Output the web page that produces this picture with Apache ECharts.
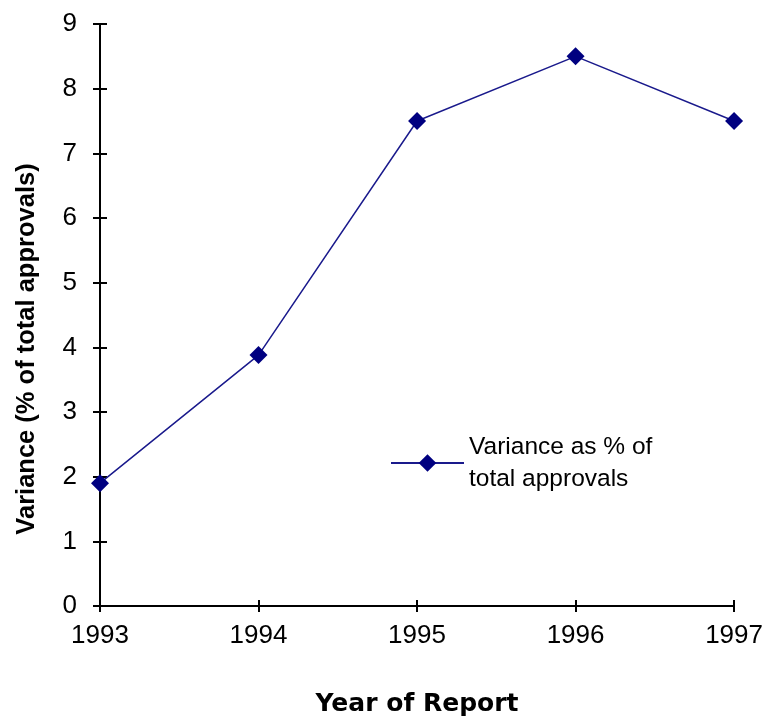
<!DOCTYPE html>
<html><head><meta charset="utf-8">
<script src="https://cdn.jsdelivr.net/npm/echarts@6/dist/echarts.min.js"></script>
<style>html,body{margin:0;padding:0;background:#fff}#c{width:766px;height:723px}</style>
</head><body><div id="c"></div>
<script>
const categories = ['1993','1994','1995','1996','1997'];
const variance = [1.9, 3.88, 7.5, 8.5, 7.5];
const seriesName = 'Variance as % of total approvals';
const chart = echarts.init(document.getElementById('c'));
const font = 'Liberation Sans, Arial, sans-serif';
chart.setOption({
  animation: false,
  backgroundColor: '#fff',
  grid: {left: 100, right: 30, top: 24, bottom: 117},
  legend: {
    left: 385, top: 426, orient: 'vertical',
    itemWidth: 73, itemHeight: 22, itemGap: 10,
    data: [seriesName],
    formatter: () => 'Variance as % of\ntotal approvals',
    textStyle: {fontFamily: font, fontSize: 24.5, color: '#000', lineHeight: 32}
  },
  xAxis: [{
    type: 'category', data: categories, boundaryGap: false,
    name: 'Year of Report', nameLocation: 'middle', nameGap: 86,
    nameTextStyle: {fontFamily: 'DejaVu Sans, sans-serif', fontSize: 25, fontWeight: 'bold', color: '#000'},
    axisLine: {lineStyle: {color: '#000', width: 2}},
    axisTick: {alignWithLabel: true, length: 6, lineStyle: {color: '#000', width: 2}},
    axisLabel: {fontFamily: font, fontSize: 26, color: '#000', margin: 17}
  }, {
    type: 'category', data: categories, boundaryGap: false, position: 'bottom',
    axisLine: {show: false},
    axisTick: {inside: true, length: 6, lineStyle: {color: '#000', width: 2}},
    axisLabel: {show: false}
  }],
  yAxis: [{
    type: 'value', min: 0, max: 9, interval: 1,
    name: 'Variance (% of total approvals)', nameLocation: 'middle', nameGap: 60,
    nameTextStyle: {fontFamily: font, fontSize: 25.5, fontWeight: 'bold', color: '#000', padding: [0, 68, 0, 0]},
    axisLine: {show: true, lineStyle: {color: '#000', width: 2}},
    axisTick: {show: true, length: 7, lineStyle: {color: '#000', width: 2}},
    axisLabel: {fontFamily: font, fontSize: 26, color: '#000', margin: 23},
    splitLine: {show: false}
  }, {
    type: 'value', min: 0, max: 9, interval: 1, position: 'left',
    axisLine: {show: false},
    axisTick: {show: true, inside: true, length: 7, lineStyle: {color: '#000', width: 2}},
    axisLabel: {show: false}, splitLine: {show: false}
  }],
  series: [{
    name: seriesName, type: 'line', data: variance,
    symbol: 'diamond', symbolSize: 18,
    itemStyle: {color: '#000080'},
    lineStyle: {color: '#1a1a8c', width: 1.5}
  }]
});
</script></body></html>
